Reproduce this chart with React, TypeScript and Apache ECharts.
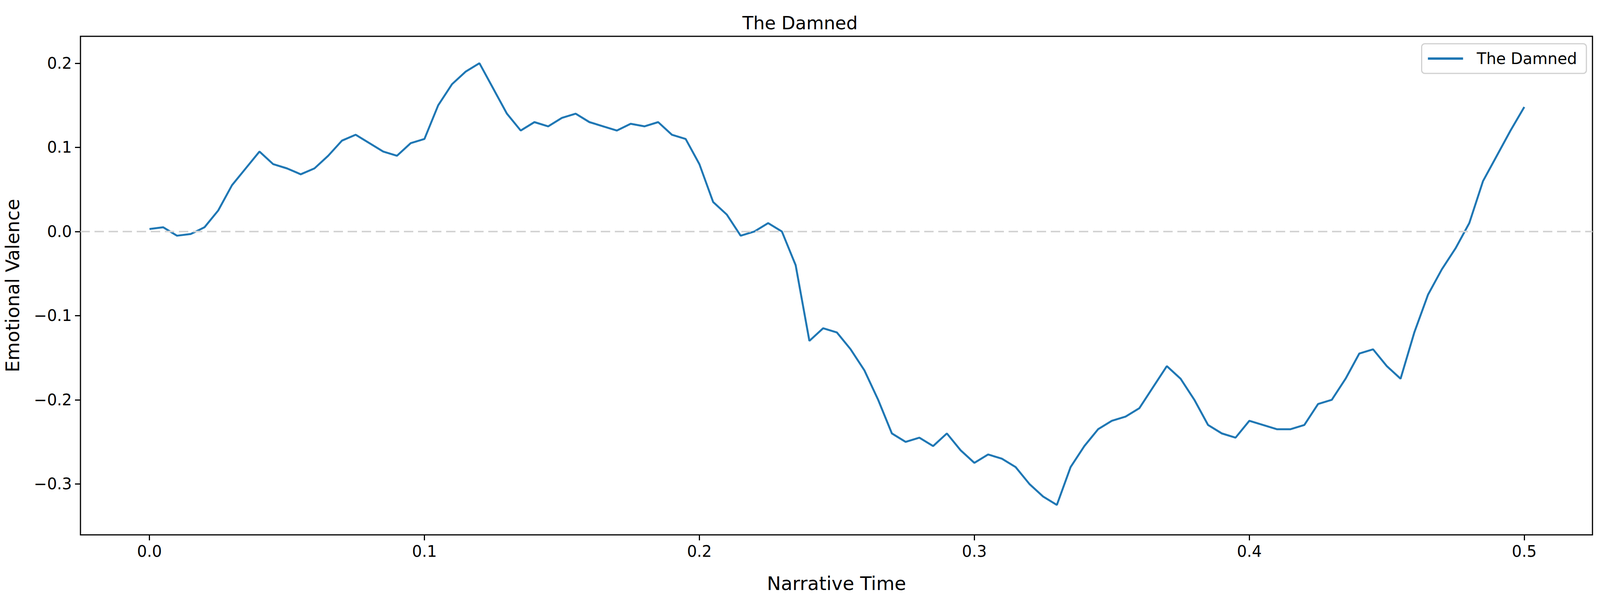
import { useEffect, useRef } from 'react';
import * as echarts from 'echarts';

const narrativeTime = Array.from({ length: 101 }, (_, i) => +(i * 0.005).toFixed(3));
const valence = [
  0.003, 0.005, -0.005, -0.003, 0.005, 0.025, 0.055, 0.075, 0.095, 0.08,
  0.075, 0.068, 0.075, 0.09, 0.108, 0.115, 0.105, 0.095, 0.09, 0.105,
  0.11, 0.15, 0.175, 0.19, 0.2, 0.17, 0.14, 0.12, 0.13, 0.125,
  0.135, 0.14, 0.13, 0.125, 0.12, 0.128, 0.125, 0.13, 0.115, 0.11,
  0.08, 0.035, 0.02, -0.005, 0.0, 0.01, 0.0, -0.04, -0.13, -0.115,
  -0.12, -0.14, -0.165, -0.2, -0.24, -0.25, -0.245, -0.255, -0.24, -0.26,
  -0.275, -0.265, -0.27, -0.28, -0.3, -0.315, -0.325, -0.28, -0.255, -0.235,
  -0.225, -0.22, -0.21, -0.185, -0.16, -0.175, -0.2, -0.23, -0.24, -0.245,
  -0.225, -0.23, -0.235, -0.235, -0.23, -0.205, -0.2, -0.175, -0.145, -0.14,
  -0.16, -0.175, -0.12, -0.075, -0.045, -0.02, 0.01, 0.06, 0.09, 0.12,
  0.148,
];
const xTicks = [0, 0.1, 0.2, 0.3, 0.4, 0.5];
const yTicks = [-0.3, -0.2, -0.1, 0, 0.1, 0.2];

const fmt = (v: number) => (v < 0 ? '\u2212' + Math.abs(v).toFixed(1) : v.toFixed(1));

const App = () => {
  const chartRef = useRef<HTMLDivElement | null>(null);

  useEffect(() => {
    document.body.style.margin = '0';
    document.body.style.overflow = 'hidden';
    if (!chartRef.current) return;
    const chart = echarts.init(chartRef.current, null, { renderer: 'svg' });
    const font = 'DejaVu Sans';
    chart.setOption({
      animation: false,
      textStyle: { fontFamily: font },
      title: {
        text: 'The Damned',
        left: 'center',
        top: '2%',
        textStyle: { fontFamily: font, fontSize: 46, fontWeight: 'normal', color: '#000' },
      },
      legend: {
        right: '0.85%',
        top: '7.3%',
        itemWidth: 90,
        itemHeight: 6,
        padding: [18, 24, 18, 16],
        borderColor: '#d0d0d0',
        borderWidth: 3,
        borderRadius: 8,
        textStyle: { fontSize: 40, color: '#000', fontFamily: font, padding: [0, 0, 0, 30] },
        data: [{ name: 'The Damned', icon: 'rect' }],
      },
      grid: {
        left: '3.77%', right: '0.47%', top: '6.06%', bottom: '10.7%',
        show: true, borderColor: '#000', borderWidth: 3, containLabel: false,
      },
      xAxis: {
        type: 'value',
        min: -0.0251,
        max: 0.5248,
        name: 'Narrative Time',
        nameLocation: 'middle',
        nameGap: 100,
        nameTextStyle: { fontSize: 48, color: '#000', fontFamily: font },
        axisLine: { show: false, onZero: false },
        splitLine: { show: false },
        axisTick: { show: true, length: 14, lineStyle: { color: '#000', width: 3 }, customValues: xTicks },
        axisLabel: { fontSize: 40, color: '#000', margin: 22, customValues: xTicks, formatter: fmt },
      },
      yAxis: {
        type: 'value',
        min: -0.3606,
        max: 0.232,
        name: 'Emotional Valence',
        nameLocation: 'middle',
        nameGap: 150,
        nameTextStyle: { fontSize: 48, color: '#000', fontFamily: font },
        axisLine: { show: false, onZero: false },
        splitLine: { show: false },
        axisTick: { show: true, length: 14, lineStyle: { color: '#000', width: 3 }, customValues: yTicks },
        axisLabel: { fontSize: 40, color: '#000', margin: 22, customValues: yTicks, formatter: fmt },
      },
      series: [
        {
          name: 'The Damned',
          type: 'line',
          data: narrativeTime.map((t, i) => [t, valence[i]]),
          showSymbol: false,
          lineStyle: { color: '#1f77b4', width: 5 },
          itemStyle: { color: '#1f77b4' },
          markLine: {
            silent: true,
            symbol: 'none',
            label: { show: false },
            lineStyle: { color: '#d3d3d3', type: [24, 12], width: 4 },
            data: [{ yAxis: 0 }],
          },
        },
      ],
    });
    const onResize = () => chart.resize();
    window.addEventListener('resize', onResize);
    return () => {
      window.removeEventListener('resize', onResize);
      chart.dispose();
    };
  }, []);

  return <div ref={chartRef} style={{ width: '100vw', height: '100vh' }} />;
};

export default App;
